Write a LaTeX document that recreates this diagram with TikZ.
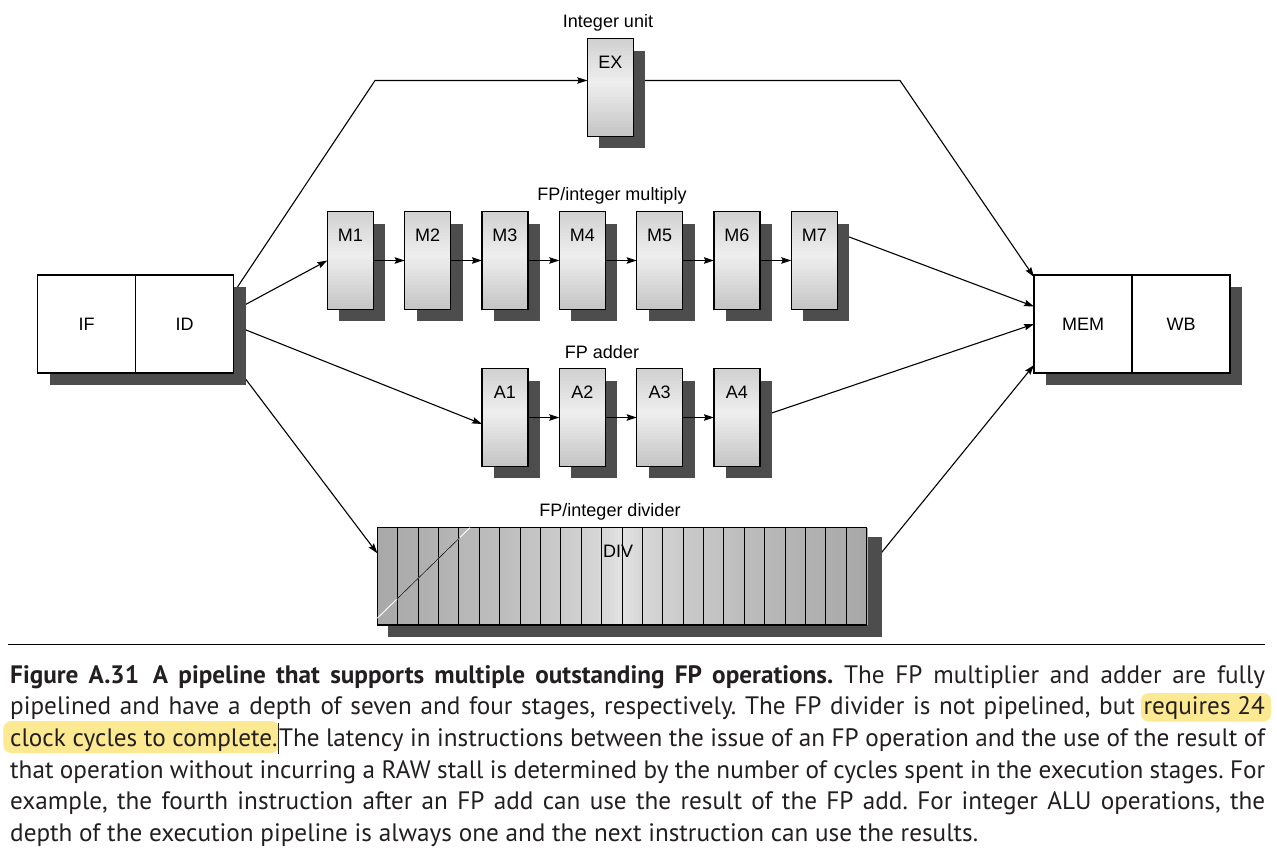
\documentclass[tikz,border=0pt]{standalone}
\usepackage{fontspec}
\setmainfont{Liberation Sans}
\newfontfamily\capfont{PT Sans}
\usetikzlibrary{arrows.meta,calc}
\pgfdeclarelayer{bglayer}
\pgfdeclarelayer{linelayer}
\pgfdeclarelayer{shadowlayer}
\pgfdeclarelayer{filllayer}
\pgfsetlayers{bglayer,linelayer,shadowlayer,filllayer,main}
\definecolor{shadowc}{HTML}{4D4D4D}
\definecolor{hlc}{HTML}{FDE992}
\definecolor{captxt}{HTML}{231F20}
\frenchspacing
\tikzset{
  lbl/.style={font=\fontsize{18}{20}\selectfont, inner sep=0, anchor=base},
  io/.style={draw, line width=1.2pt, fill=white, minimum width=98pt, minimum height=98pt,
    inner sep=0, outer sep=0, font=\fontsize{18}{20}\selectfont},
  stage/.style={draw, line width=1.2pt, minimum width=46pt, minimum height=97.6pt,
    inner xsep=0, inner ysep=0, outer sep=0, text height=30pt, text depth=67.6pt,
    font=\fontsize{18}{20}\selectfont},
  divbox/.style={draw, line width=1.2pt, minimum width=489.4pt, minimum height=97.3pt,
    inner xsep=0, inner ysep=0, outer sep=0, text height=29.8pt, text depth=67.5pt,
    font=\fontsize{18}{20}\selectfont},
  conn/.style={line width=1.1pt, -{Stealth[length=10pt,width=6.5pt,inset=1.5pt]}},
  capline/.style={anchor=base west, inner sep=0, font=\capfont\fontsize{25.2}{28}\selectfont, text=captxt},
}
% vertical gradient strips behind a stage box
\newcommand\vstrips[1]{%
  \foreach \k in {0,...,31}{%
    \pgfmathsetmacro\t{(\k+0.5)/32}%
    \pgfmathsetmacro\g{\t<0.45 ? 37-24*\t/0.45 : 13+33*(\t-0.45)/0.55}%
    \fill[gray!\g] ($(#1.north west)!\k/32!(#1.south west)$) rectangle ($(#1.north east)!{(\k+1.2)/32}!(#1.south east)$);}}
\begin{document}
\begin{tikzpicture}[x=1pt,y=-1pt]
\useasboundingbox (0,0) rectangle (1277,850);
\begin{pgfonlayer}{bglayer}
  \fill[white] (0,0) rectangle (1277,850);
\end{pgfonlayer}

% --- IF/ID and MEM/WB
\node[io] (if) at (86.5,324) {IF};
\node[io] (id) at (184.5,324) {ID};
\node[io] (mem) at (1083,324) {MEM};
\node[io] (wb) at (1181,324) {WB};

% --- stage boxes
\node[stage] (ex) at (610.3,87.4) {EX};
\foreach \i in {1,...,7}
  \node[stage] (m\i) at ({350.3+(\i-1)*77.33},260.5) {M\i};
\foreach \i in {1,...,4}
  \node[stage] (a\i) at ({350.3+(\i+1)*77.33},417.5) {A\i};

% --- divider
\node[divbox] (div) at (622,576.3) {\hspace*{-8pt}DIV};
\foreach \i in {1,...,23}
  \draw[line width=1pt] ($(div.north west)+(\i*20.392,0)$) -- ($(div.south west)+(\i*20.392,0)$);
\coordinate (d1) at ($(div.south west)+(0,-6.7)$);
\coordinate (d2) at ($(div.north west)+(92.7,0)$);
\draw[white, line width=0.9pt] (d1) -- (d2);
\draw[gray!25!black, line width=0.8pt] ($(d1)!0.21!(d2)$) -- ($(d1)!0.89!(d2)$);

% --- gradient fills
\begin{pgfonlayer}{filllayer}
  \foreach \n in {ex,m1,m2,m3,m4,m5,m6,m7,a1,a2,a3,a4}{\vstrips{\n}}
  \foreach \k in {0,...,119}{%
    \pgfmathsetmacro\t{(\k+0.5)/120}%
    \pgfmathsetmacro\g{20+48*abs(2*\t-1)^0.6}%
    \fill[gray!\g] ($(div.north west)!\k/120!(div.north east)$) rectangle ($(div.south west)!{(\k+1.25)/120}!(div.south east)$);}
\end{pgfonlayer}

% --- group labels
\node[lbl] (lint) at (608,27.3) {Integer unit};
\node[lbl] (lmul) at (612,200.5) {FP/integer multiply};
\node[lbl] (ladd) at (602,358.5) {FP adder};
\node[lbl] (ldiv) at (610,516.5) {FP/integer divider};

% --- shadows
\begin{pgfonlayer}{shadowlayer}
  \foreach \n in {if,id,mem,wb,ex,m1,m2,m3,m4,m5,m6,m7,a1,a2,a3,a4}
    \fill[shadowc] ($(\n.north west)+(12,12)$) rectangle ($(\n.south east)+(12,12)$);
  \fill[shadowc] ($(div.north west)+(11,9.5)$) rectangle ($(div.south east)+(15.3,11.7)$);
\end{pgfonlayer}

% --- connectors
\coordinate (b1) at (375,80.5);
\coordinate (b2) at (900,80.5);
\begin{pgfonlayer}{linelayer}
  \draw[conn] ($(id.east)+(0,-31)$) -- (b1) -- ($(ex.west)+(0,-6.9)$);
  \draw[conn] ($(ex.east)+(0,-6.9)$) -- (b2) -- ($(mem.west)+(0,-47)$);
  \draw[conn] ($(id.east)+(0,-13)$) -- (m1.west);
  \draw[conn] ($(id.east)+(0,1)$) -- ($(a1.west)+(0,6.5)$);
  \draw[conn] ($(id.east)+(0,39)$) -- ($(div.west)+(0,-23)$);
  \draw[conn] ($(m7.east)+(0,-28)$) -- ($(mem.west)+(0,-17.5)$);
  \draw[conn] ($(a4.east)+(0,-0.5)$) -- (mem.west);
  \draw[conn] ($(div.east)+(0,-5.5)$) -- ($(mem.west)+(0,41)$);
\end{pgfonlayer}
\foreach \i in {1,...,6}{\pgfmathtruncatemacro\j{\i+1}\draw[conn] (m\i.east) -- (m\j.west);}
\foreach \i in {1,...,3}{\pgfmathtruncatemacro\j{\i+1}\draw[conn] (a\i.east) -- (a\j.west);}

% --- caption
\draw[line width=1.2pt] (8,644.7) -- (1265,644.7);
\node[capline] (c1) at (10,683) {\makebox[1255pt][s]{\textbf{Figure A.31\hspace{0.55em}A pipeline that supports multiple outstanding FP operations.} The FP multiplier and adder are fully}};
\node[capline, anchor=base east] (c2b) at (1265,714) {requires 24};
\path let \p1=(c2b.base west) in node[capline] (c2a) at (10,714)
  {\makebox[\dimexpr\x1-10pt\relax][s]{pipelined and have a depth of seven and four stages, respectively. The FP divider is not pipelined, but\ }};
\node[capline] (c3a) at (10,746) {clock cycles to complete.};
\path let \p1=(c3a.base east) in node[capline] (c3b) at (\p1)
  {\makebox[\dimexpr1265pt-\x1\relax][s]{\rule[-8pt]{1.2pt}{31.3pt}The latency in instructions between the issue of an FP operation and the use of the result of}};
\node[capline] (c4) at (10,778) {\makebox[1255pt][s]{that operation without incurring a RAW stall is determined by the number of cycles spent in the execution stages. For}};
\node[capline] (c5) at (10,809.5) {\makebox[1255pt][s]{example, the fourth instruction after an FP add can use the result of the FP add. For integer ALU operations, the}};
\node[capline] (c6) at (10,841.5) {depth of the execution pipeline is always one and the next instruction can use the results.};
\begin{pgfonlayer}{shadowlayer}
  \fill[hlc, rounded corners=8pt] ($(c2b.base west)+(-2.5,7.7)$) rectangle ($(c2b.base east)+(6,-21)$);
  \fill[hlc, rounded corners=8pt] ($(c3a.base west)+(-6.7,7)$) rectangle ($(c3a.base east)+(1.5,-25)$);
\end{pgfonlayer}
\end{tikzpicture}
\end{document}
